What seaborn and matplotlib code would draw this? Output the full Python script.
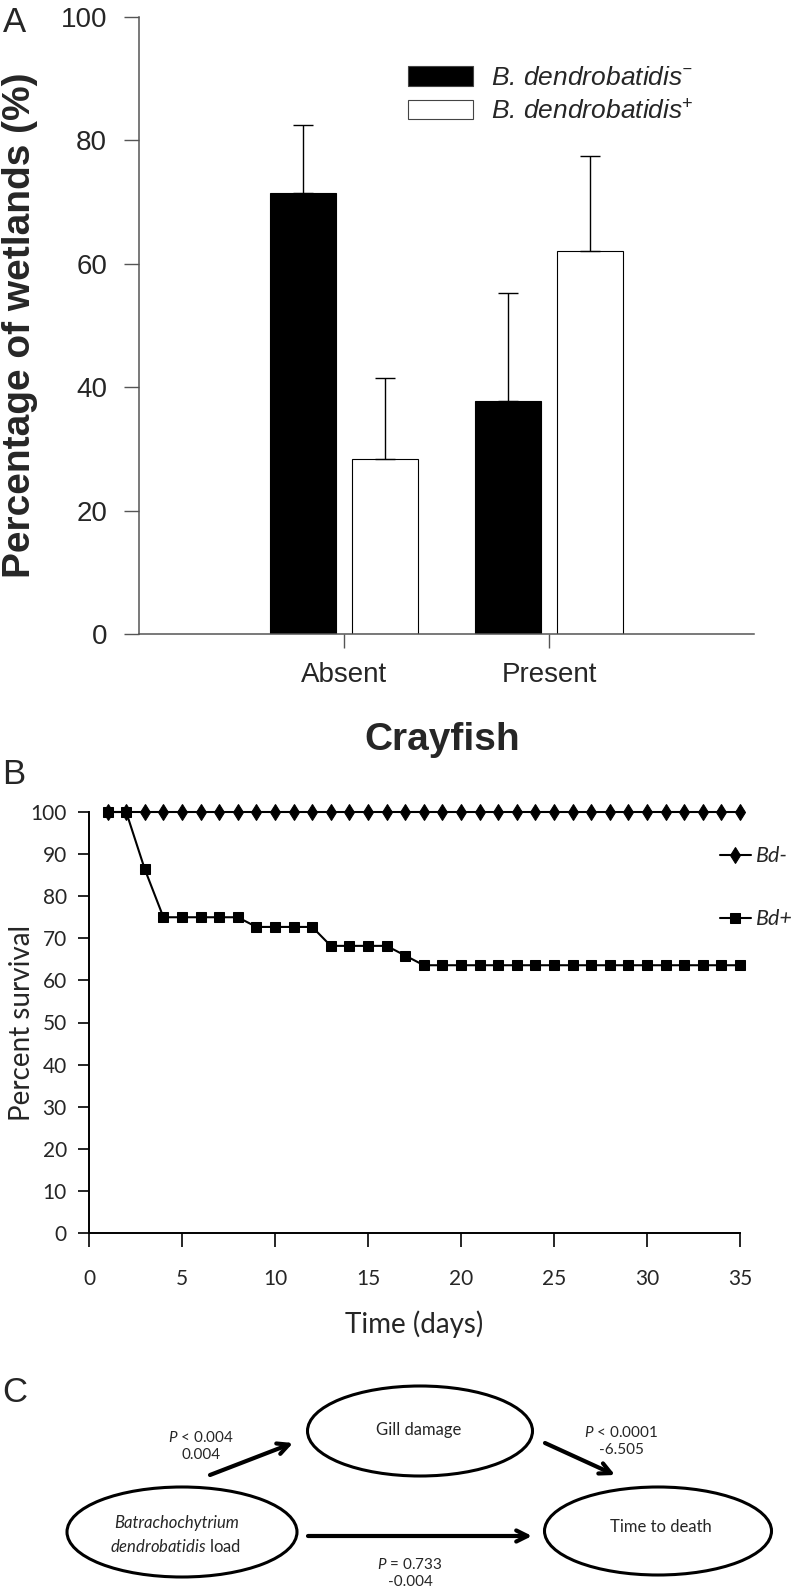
import matplotlib
matplotlib.use('Agg')
import matplotlib.pyplot as plt
from matplotlib.patches import Ellipse, FancyArrowPatch
import numpy as np
import pandas as pd
import seaborn as sns

# ---- panel A: wetlands by crayfish presence ----
crayfish = ['Absent', 'Present']
bd_status = ['B. dendrobatidis$^{-}$', 'B. dendrobatidis$^{+}$']
pct_bd_neg = [71.5, 37.8]
pct_bd_pos = [28.3, 62.1]
err_bd_neg = [11.0, 17.4]
err_bd_pos = [13.2, 15.4]

# ---- panel B: survival over time ----
days = [1, 2, 3, 4, 5, 6, 7, 8, 9, 10, 11, 12, 13, 14, 15, 16, 17, 18,
        19, 20, 21, 22, 23, 24, 25, 26, 27, 28, 29, 30, 31, 32, 33, 34, 35]
surv_bd_neg = [100, 100, 100, 100, 100, 100, 100, 100, 100, 100, 100, 100,
               100, 100, 100, 100, 100, 100, 100, 100, 100, 100, 100, 100,
               100, 100, 100, 100, 100, 100, 100, 100, 100, 100, 100]
surv_bd_pos = [100, 100, 86.4, 75, 75, 75, 75, 75, 72.7, 72.7, 72.7, 72.7,
               68.2, 68.2, 68.2, 68.2, 65.9, 63.6, 63.6, 63.6, 63.6, 63.6,
               63.6, 63.6, 63.6, 63.6, 63.6, 63.6, 63.6, 63.6, 63.6, 63.6,
               63.6, 63.6, 63.6]
group_names = ['Bd-', 'Bd+']

# ---- panel C: path diagram ----
path_labels = [r'$\mathit{P}$ < 0.004' + '\n0.004',
               r'$\mathit{P}$ < 0.0001' + '\n-6.505',
               r'$\mathit{P}$ = 0.733' + '\n-0.004']

sns.set_style('ticks')
plt.rcParams['font.family'] = ['Liberation Sans', 'DejaVu Sans']
plt.rcParams['mathtext.fontset'] = 'custom'
plt.rcParams['mathtext.rm'] = 'Lato'
plt.rcParams['mathtext.it'] = 'Lato:italic'

W, H = 799, 1591
fig = plt.figure(figsize=(W / 100, H / 100), dpi=100)

# diagram layer (pixel coords) goes underneath
axC = fig.add_axes([0, 0, 1, 1])
axC.set_xlim(0, W)
axC.set_ylim(H, 0)
axC.axis('off')

# ---------------- panel A ----------------
axA = fig.add_axes([139 / W, 1 - 634 / H, 615 / W, 617 / H])
dfA = pd.DataFrame({
    'Crayfish': crayfish * 2,
    'status': [bd_status[0]] * 2 + [bd_status[1]] * 2,
    'pct': pct_bd_neg + pct_bd_pos,
})
sns.barplot(data=dfA, x='Crayfish', y='pct', hue='status', hue_order=bd_status,
            palette=['black', 'white'], edgecolor='black', linewidth=0.8,
            width=0.8, gap=0.2, ax=axA)

err_lookup = {round(v, 1): e for v, e in zip(pct_bd_neg + pct_bd_pos, err_bd_neg + err_bd_pos)}
for p in axA.patches:
    h = p.get_height()
    if h is None or h <= 0 or round(h, 1) not in err_lookup:
        continue
    xc = p.get_x() + p.get_width() / 2
    axA.errorbar(xc, h, yerr=[[0], [err_lookup[round(h, 1)]]], fmt='none',
                 ecolor='black', elinewidth=1, capsize=7, capthick=1, zorder=1)

handles, labels = axA.get_legend_handles_labels()
for hd in handles:
    hd.set_edgecolor('#444444')
axA.legend(handles, labels, loc='upper left', bbox_to_anchor=(0.4374, 0.9206),
           frameon=False, prop={'style': 'italic', 'size': 19},
           handlelength=2.46, handleheight=0.76, handletextpad=0.68,
           labelspacing=0.35, borderpad=0, borderaxespad=0)

axA.set_ylim(0, 100)
axA.set_xlim(-1, 2)
axA.set_yticks([0, 20, 40, 60, 80, 100])
sns.despine(ax=axA)
for s in ['left', 'bottom']:
    axA.spines[s].set_color('#555555')
    axA.spines[s].set_linewidth(1.1)
axA.tick_params(axis='y', length=11, width=1, color='#555555', pad=12, labelsize=20)
axA.tick_params(axis='x', length=10, width=1, color='#555555', pad=10, labelsize=20)
axA.set_ylabel('Percentage of wetlands (%)', fontsize=28, fontweight='bold')
axA.set_xlabel('Crayfish', fontsize=28, fontweight='bold')
axA.yaxis.set_label_coords(-0.165, 0.5)
axA.xaxis.set_label_coords(0.493, -0.142)

# ---------------- panel B ----------------
axB = fig.add_axes([89 / W, 1 - 1233 / H, 651 / W, 421 / H])
dfB = pd.DataFrame({
    'day': days * 2,
    'survival': surv_bd_neg + surv_bd_pos,
    'group': [group_names[0]] * len(days) + [group_names[1]] * len(days),
})
sns.lineplot(data=dfB[dfB['group'] == 'Bd-'], x='day', y='survival', color='black',
             marker='d', markersize=8.5, markeredgecolor='black', lw=1.5,
             label='Bd-', ax=axB)
sns.lineplot(data=dfB[dfB['group'] == 'Bd+'], x='day', y='survival', color='black',
             marker='s', markersize=7.5, markeredgecolor='black', lw=1.5,
             label='Bd+', ax=axB)
for ln in axB.lines:
    ln.set_clip_on(False)

axB.set_xlim(0, 35)
axB.set_ylim(0, 100)
axB.set_xticks(range(0, 36, 5))
axB.set_yticks(range(0, 101, 10))
sns.despine(ax=axB)
for s in ['left', 'bottom']:
    axB.spines[s].set_color('black')
    axB.spines[s].set_linewidth(1.4)
axB.tick_params(axis='y', length=8, width=1.4, pad=8, labelsize=15)
axB.tick_params(axis='x', length=10, width=1.4, pad=16, labelsize=15)
for t in axB.get_xticklabels() + axB.get_yticklabels():
    t.set_fontfamily('Lato')
axB.set_ylabel('Percent survival', fontsize=20, family='Lato')
axB.set_xlabel('Time (days)', fontsize=20, family='Lato')
axB.yaxis.set_label_coords(-0.083, 0.5)
axB.xaxis.set_label_coords(0.50, -0.185)
axB.legend(loc='upper left', bbox_to_anchor=(0.969, 0.919), frameon=False,
           prop={'family': 'Lato', 'style': 'italic', 'size': 15.5},
           handlelength=1.44, handletextpad=0.25, labelspacing=2.0,
           borderpad=0, borderaxespad=0)

# ---------------- panel C ----------------
nodes = {'gill': (420, 1431, 225, 90), 'bd': (182, 1532, 230, 90),
         'death': (658, 1531, 227, 88)}
for cx, cy, w, h in nodes.values():
    axC.add_patch(Ellipse((cx, cy), w, h, fill=False, ec='black', lw=2.2))

arrows = [((210, 1475), (293, 1443)), ((545, 1443), (615, 1475)),
          ((308, 1536), (532, 1536))]
for a, b in arrows:
    axC.add_patch(FancyArrowPatch(a, b, arrowstyle='->', mutation_scale=20,
                                  lw=3, color='black', shrinkA=0, shrinkB=0))

ptext = dict(fontsize=11, family='Lato', ha='center', va='center', linespacing=1.2)
ntext = dict(fontsize=12, family='Lato', ha='center', va='center')
axC.text(201, 1446, path_labels[0], **ptext)
axC.text(621, 1441, path_labels[1], **ptext)
axC.text(410, 1573, path_labels[2], **ptext)
axC.text(419, 1430, 'Gill damage', **ntext)
axC.text(661, 1527, 'Time to death', **ntext)
axC.text(177, 1523, 'Batrachochytrium', style='italic', **ntext)
axC.text(175, 1546, r'$\mathit{dendrobatidis}$ load', **ntext)

# panel letters
fig.text(3 / W, 1 - 6 / H, 'A', fontsize=25, va='top', ha='left')
fig.text(2 / W, 1 - 775 / H, 'B', fontsize=25, va='center', ha='left')
fig.text(2 / W, 1 - 1392 / H, 'C', fontsize=25, va='center', ha='left')

fig.savefig('out.png', dpi=100)
